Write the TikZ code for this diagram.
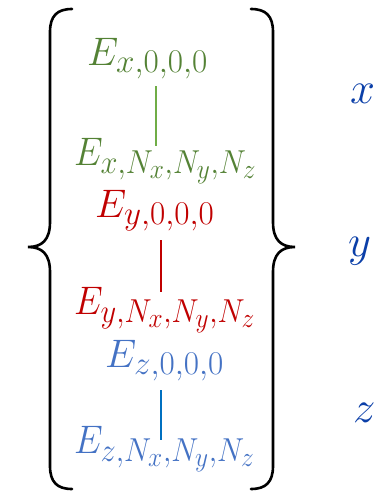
\documentclass[tikz,border=0pt]{standalone}
\definecolor{eg}{HTML}{548235}
\definecolor{er}{HTML}{C00000}
\definecolor{eb}{HTML}{4472C4}
\definecolor{lg}{HTML}{70AD47}
\definecolor{lb}{HTML}{0070C0}
\definecolor{ax}{HTML}{0B3FA8}
\newcommand{\mybigmath}[3]{\scalebox{#1}[#2]{\Huge$#3$}}
\tikzset{
  term/.style={anchor=base west, inner sep=0pt},
  axis/.style={anchor=base west, inner sep=0pt, text=ax},
  brace/.style={draw=black, line width=2.6pt, line cap=round},
  link/.style={line width=1.2pt}
}
\begin{document}
\begin{tikzpicture}[x=1pt,y=-1pt]
\useasboundingbox (0,0) rectangle (391,491);
% braces
\draw[brace] (72,9) .. controls (57,9) and (50,16) .. (50,32)
  -- (50,222) .. controls (50,240) and (42,247) .. (28,247)
  .. controls (42,247) and (50,254) .. (50,272)
  -- (50,466) .. controls (50,482) and (57,489) .. (72,489);
\draw[brace] (251,9) .. controls (266,9) and (273,16) .. (273,32)
  -- (273,222) .. controls (273,240) and (281,247) .. (295,247)
  .. controls (281,247) and (273,254) .. (273,272)
  -- (273,466) .. controls (273,482) and (266,489) .. (251,489);
% terms
\node[term, text=eg] (ex0) at (87,65) {\mybigmath{1.6}{1.6}{E_{x,0,0,0}}};
\node[term, text=eg] (exN) at (74,165) {\mybigmath{1.47}{1.6}{E_{x,N_x,N_y,N_z}}};
\node[term, text=er] (ey0) at (95,217) {\mybigmath{1.6}{1.6}{E_{y,0,0,0}}};
\node[term, text=er] (eyN) at (74,314) {\mybigmath{1.47}{1.6}{E_{y,N_x,N_y,N_z}}};
\node[term, text=eb] (ez0) at (105,367) {\mybigmath{1.6}{1.6}{E_{z,0,0,0}}};
\node[term, text=eb] (ezN) at (74,453) {\mybigmath{1.47}{1.6}{E_{z,N_x,N_y,N_z}}};
% axis labels
\node[axis] (lx) at (350,103) {\mybigmath{1.8}{1.8}{x}};
\node[axis] (ly) at (348,256) {\mybigmath{1.8}{1.8}{y}};
\node[axis] (lz) at (353,422) {\mybigmath{1.8}{1.8}{z}};
% connectors
\coordinate (g1) at (156,86); \coordinate (g2) at (156,146);
\coordinate (r1) at (161,240); \coordinate (r2) at (161,292);
\coordinate (b1) at (161,390); \coordinate (b2) at (161,440);
\draw[link, lg] (g1) -- (g2);
\draw[link, er] (r1) -- (r2);
\draw[link, lb] (b1) -- (b2);
\end{tikzpicture}
\end{document}
